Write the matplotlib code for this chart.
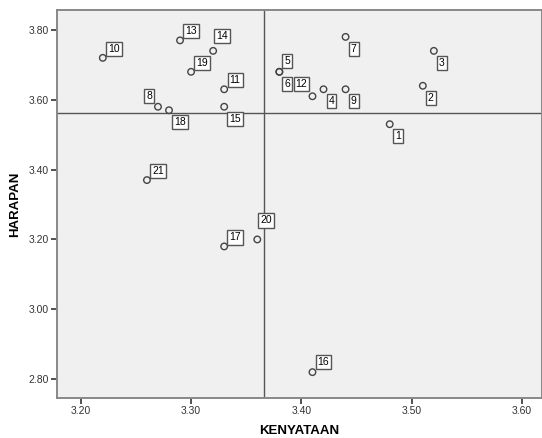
import matplotlib
matplotlib.use("Agg")
import matplotlib.pyplot as plt

plt.rcParams['font.family'] = ['Liberation Sans', 'DejaVu Sans']

# respondent numbers and their mean scores
labels = ['1', '2', '3', '4', '5', '6', '7', '8', '9', '10', '11',
          '12', '13', '14', '15', '16', '17', '18', '19', '20', '21']
kenyataan = [3.48, 3.51, 3.52, 3.42, 3.38, 3.38, 3.44, 3.27, 3.44, 3.22, 3.33,
             3.41, 3.29, 3.32, 3.33, 3.41, 3.33, 3.28, 3.30, 3.36, 3.26]
harapan = [3.53, 3.64, 3.74, 3.63, 3.68, 3.68, 3.78, 3.58, 3.63, 3.72, 3.63,
           3.61, 3.77, 3.74, 3.58, 2.82, 3.18, 3.57, 3.68, 3.20, 3.37]

mean_x = 3.366
mean_y = 3.562

# label offsets (pixels, y up) for each point
offsets = {
    '1': (8, -12), '2': (8, -12), '3': (8, -12), '4': (8, -12),
    '5': (8, 11), '6': (8, -12), '7': (8, -12), '8': (-9, 11),
    '9': (8, -12), '10': (11, 9), '11': (11, 9), '12': (-11, 12),
    '13': (11, 9), '14': (9, 15), '15': (11, -12), '16': (11, 10),
    '17': (11, 9), '18': (11, -12), '19': (11, 9), '20': (9, 19),
    '21': (11, 9),
}

fig = plt.figure(figsize=(5.42, 4.38), dpi=100)
ax = fig.add_axes([57 / 542, 40 / 438, 485 / 542, 388 / 438])
ax.set_facecolor('#f0f0f0')

ax.axvline(mean_x, color='#555555', lw=1.0, zorder=1)
ax.axhline(mean_y, color='#555555', lw=1.0, zorder=1)

ax.scatter(kenyataan, harapan, s=22, facecolors='none',
           edgecolors='#444444', linewidths=1.0, zorder=3)

for lab, x, y in zip(labels, kenyataan, harapan):
    dx, dy = offsets[lab]
    ax.annotate(lab, (x, y), xytext=(dx, dy), textcoords='offset pixels',
                ha='center', va='center', fontsize=7.5, color='black',
                bbox=dict(boxstyle='square,pad=0.2', fc='white',
                          ec='#555555', lw=1.0), zorder=4)

ax.set_xlim(3.1785, 3.618)
ax.set_ylim(2.746, 3.857)
ax.set_xticks([3.20, 3.30, 3.40, 3.50, 3.60])
ax.set_yticks([2.80, 3.00, 3.20, 3.40, 3.60, 3.80])
ax.xaxis.set_major_formatter(matplotlib.ticker.FormatStrFormatter('%.2f'))
ax.yaxis.set_major_formatter(matplotlib.ticker.FormatStrFormatter('%.2f'))
ax.tick_params(direction='out', length=4, width=1.2, color='#333333',
               labelsize=7.5, labelcolor='#333333', pad=2)

for side in ['left', 'bottom', 'top', 'right']:
    ax.spines[side].set_color('#888888')
    ax.spines[side].set_linewidth(1.4)

ax.set_xlabel('KENYATAAN', fontsize=9.5, fontweight='bold', labelpad=6)
ax.set_ylabel('HARAPAN', fontsize=9.5, fontweight='bold', labelpad=5)

fig.savefig('out.png', dpi=100)
